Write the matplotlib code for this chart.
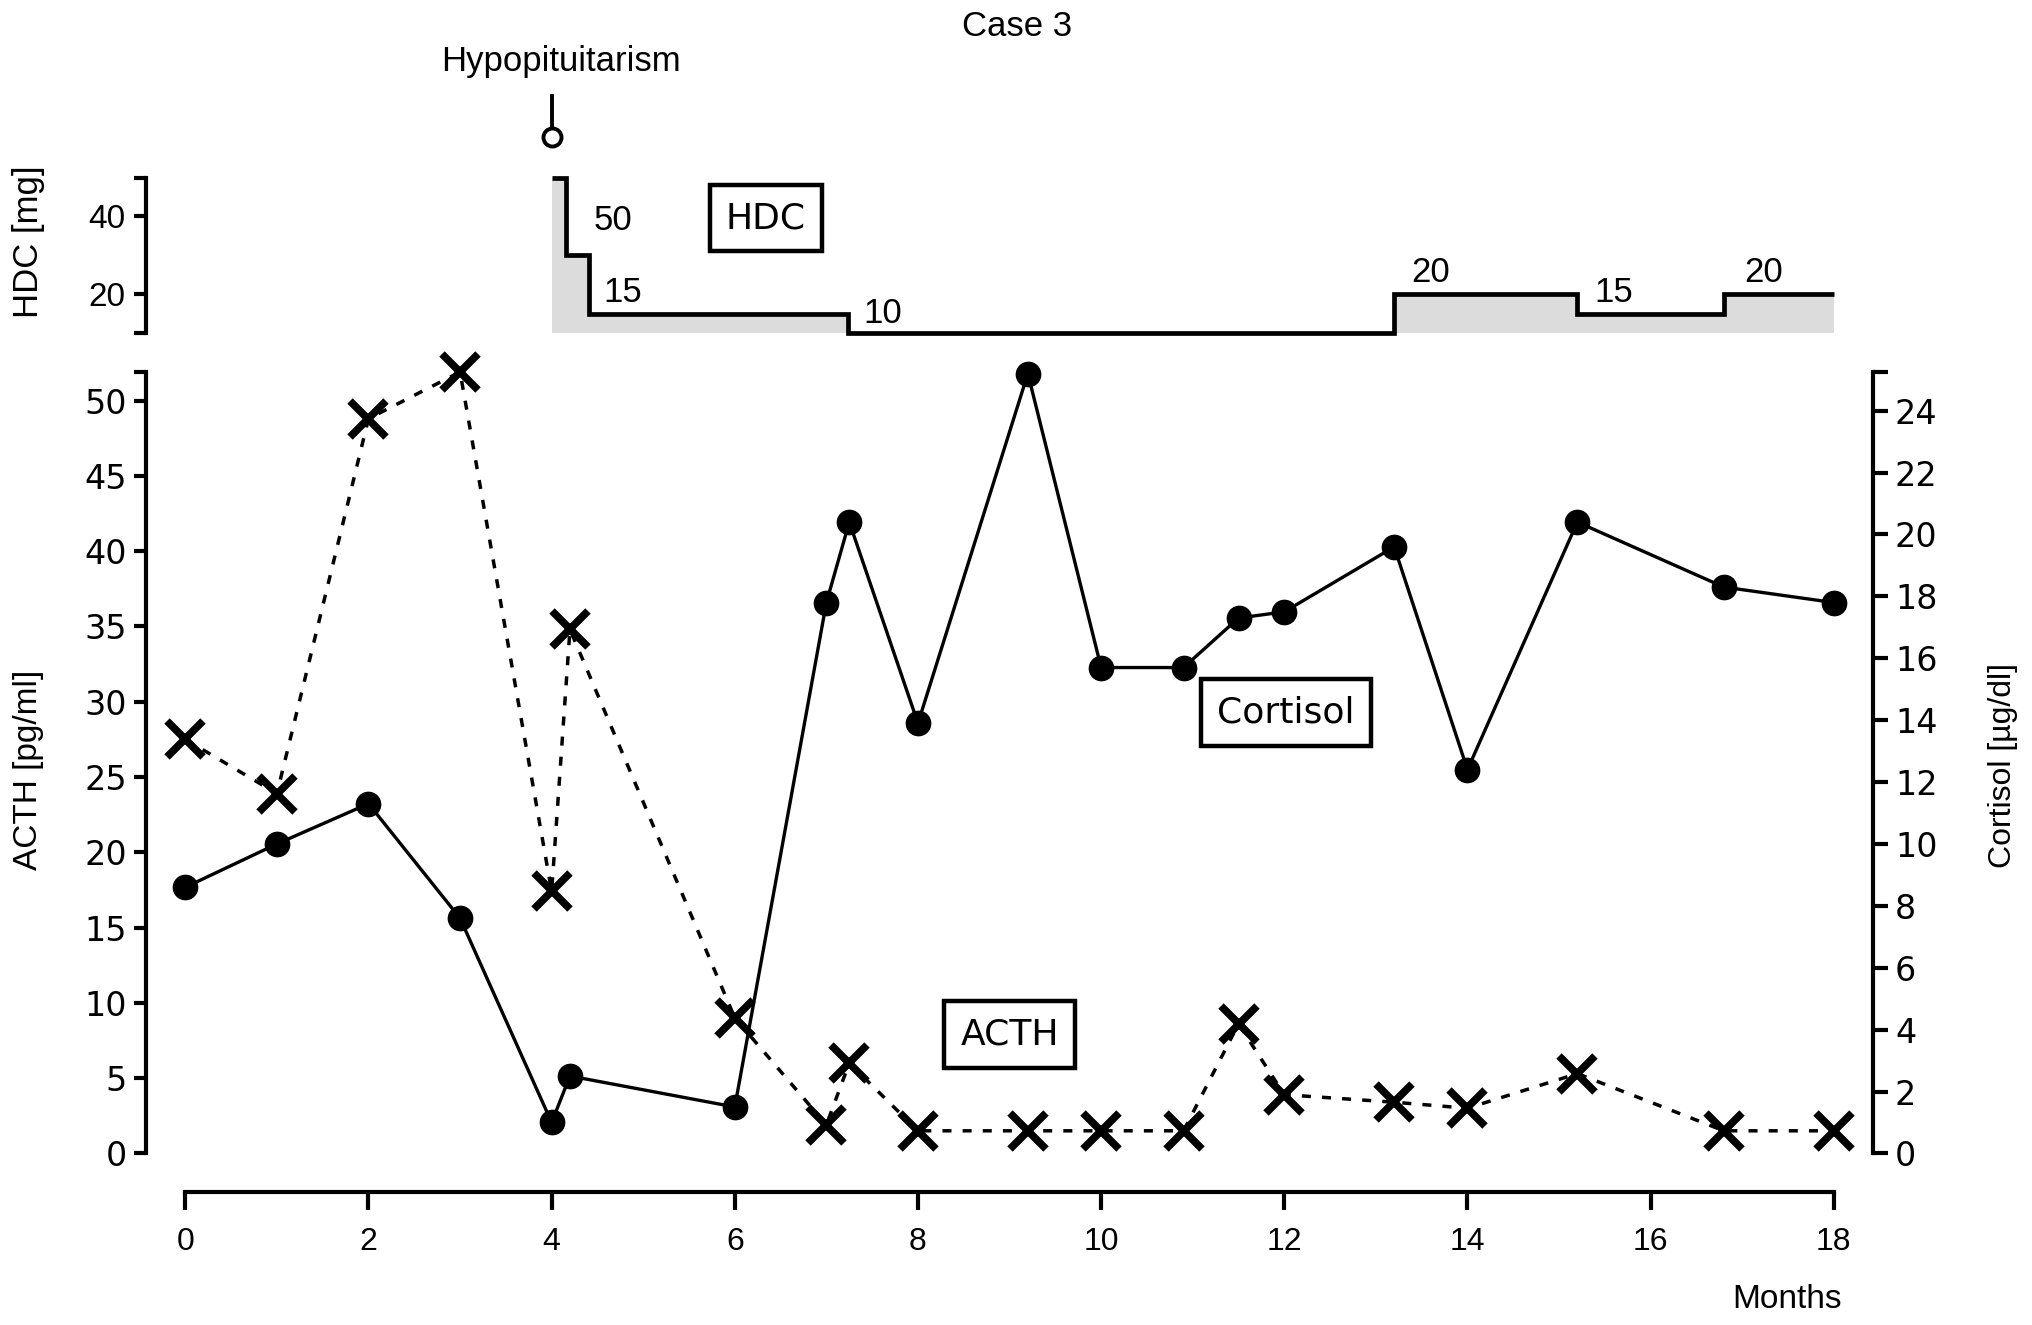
import matplotlib
matplotlib.use("Agg")
import matplotlib.pyplot as plt

NARROW = 'Liberation Sans'
WIDE = 'DejaVu Sans'
plt.rcParams['font.family'] = [NARROW, 'DejaVu Sans']

# ---------------- data ----------------
months = [0, 1, 2, 3, 4, 4.2, 6, 7, 7.25, 8, 9.2, 10, 10.9, 11.5, 12, 13.2, 14, 15.2, 16.8, 18]
cortisol = [8.6, 10.0, 11.3, 7.6, 1.0, 2.5, 1.5, 17.8, 20.4, 13.9, 25.2, 15.7, 15.7, 17.3, 17.5, 19.6, 12.4, 20.4, 18.3, 17.8]
acth = [27.5, 23.9, 48.8, 51.9, 17.4, 34.8, 9.0, 1.9, 6.0, 1.5, 1.5, 1.5, 1.5, 8.6, 3.9, 3.4, 3.0, 5.3, 1.5, 1.5]

hdc_edges = [4, 4.16, 4.41, 7.24, 13.2, 15.2, 16.8, 18]
hdc_dose = [50, 30, 15, 10, 20, 15, 20]
hdc_labels = ['50', '15', '10', '20', '15', '20']
hdc_label_x = [4.67, 4.78, 7.62, 13.6, 15.6, 17.23]
hdc_label_y = [39.0, 20.3, 14.9, 25.7, 20.3, 25.7]

x_ticks = list(range(0, 19, 2))
acth_ticks = list(range(0, 51, 5))
cort_ticks = list(range(0, 25, 2))
hdc_ticks = [20, 40]

# ---------------- figure ----------------
W, H = 2032, 1325
fig = plt.figure(figsize=(W / 100, H / 100), dpi=100)

def fx(px):
    return px / W

def fy(py):
    return 1 - py / H

left_px, right_px = 146.4, 1872.7
main_top, main_bot = 372, 1153.4
hdc_top, hdc_bot = 177.6, 333
XL = (-0.425, 18.425)

ax = fig.add_axes([fx(left_px), fy(main_bot), fx(right_px - left_px), (main_bot - main_top) / H])
ax2 = ax.twinx()
axh = fig.add_axes([fx(left_px), fy(hdc_bot), fx(right_px - left_px), (hdc_bot - hdc_top) / H])

LW_SP = 3.0
for a in (ax, ax2, axh):
    a.set_xlim(*XL)
    a.patch.set_visible(False)
    for s in a.spines.values():
        s.set_linewidth(LW_SP)
        s.set_capstyle('projecting')

ACTH_TOP = 51.9
CORT_TOP = 25.25
ax.set_ylim(0, ACTH_TOP)
ax2.set_ylim(0, CORT_TOP)

# main left axis
ax.spines['top'].set_visible(False)
ax.spines['right'].set_visible(False)
ax.spines['bottom'].set_position(('outward', 28))
ax.spines['bottom'].set_bounds(0, 18)
ax.set_xticks(x_ticks)
ax.set_xticklabels([str(t) for t in x_ticks], fontfamily=NARROW, fontsize=23)
ax.tick_params(axis='x', direction='out', length=13, width=LW_SP, pad=12)
ax.set_yticks(acth_ticks + [ACTH_TOP])
ax.set_yticklabels([str(t) for t in acth_ticks] + [''], fontsize=24, fontfamily=WIDE)
ax.tick_params(axis='y', direction='out', length=9, width=LW_SP, pad=5)

ax2.spines['top'].set_visible(False)
ax2.spines['left'].set_visible(False)
ax2.spines['bottom'].set_visible(False)
ax2.set_yticks(cort_ticks + [CORT_TOP])
ax2.set_yticklabels([str(t) for t in cort_ticks] + [''], fontsize=24, fontfamily=WIDE)
ax2.tick_params(axis='y', direction='out', length=11, width=LW_SP, pad=5)

# HDC axis
axh.set_ylim(10, 50)
axh.spines['top'].set_visible(False)
axh.spines['right'].set_visible(False)
axh.spines['bottom'].set_visible(False)
axh.set_xticks([])
axh.set_yticks([10] + hdc_ticks + [50])
axh.set_yticklabels([''] + [str(t) for t in hdc_ticks] + [''], fontfamily=NARROW, fontsize=24)
axh.tick_params(axis='y', direction='out', length=9, width=LW_SP, pad=6)

axh.stairs(hdc_dose, hdc_edges, baseline=10, fill=True, color='#dcdcdc', lw=0)
axh.stairs(hdc_dose, hdc_edges, baseline=None, color='black', lw=3.4, clip_on=False)
for t, xx, yy in zip(hdc_labels, hdc_label_x, hdc_label_y):
    axh.text(xx, yy, t, ha='center', va='center', fontsize=25, fontfamily=NARROW)

# Hypopituitarism marker
axh.plot([4, 4], [63.0, 71.4], color='black', lw=2.8, clip_on=False, solid_capstyle='butt')
axh.plot([4], [60.4], marker='o', ms=13, mfc='white', mec='black', mew=2.8, clip_on=False)

# data series
ax2.plot(months, cortisol, color='black', lw=2.4, marker='o', ms=17.5, mfc='black', mec='black', clip_on=False, zorder=3)
ax.plot(months, acth, color='black', lw=2.5, ls=(0, (2.6, 3.2)), marker='x', ms=26, mew=5.5, clip_on=False, zorder=3)

# text boxes
box = dict(boxstyle='square,pad=0.45', fc='white', ec='black', lw=3.2)
axh.text(6.34, 39.6, 'HDC', ha='center', va='center', fontsize=26, fontfamily=WIDE, bbox=box)
ax.text(12.02, 29.3, 'Cortisol', ha='center', va='center', fontsize=26, fontfamily=WIDE, bbox=box)
ax.text(9.0, 7.9, 'ACTH', ha='center', va='center', fontsize=26, fontfamily=WIDE, bbox=box)

# labels
fig.text(fx(1017), fy(26), 'Case 3', ha='center', va='center', fontsize=25, fontfamily=NARROW)
fig.text(fx(561), fy(62), 'Hypopituitarism', ha='center', va='center', fontsize=25, fontfamily=NARROW)
fig.text(fx(28.5), fy(242), 'HDC [mg]', ha='center', va='center', rotation=90, fontsize=25, fontfamily=NARROW)
fig.text(fx(28.5), fy(770), 'ACTH [pg/ml]', ha='center', va='center', rotation=90, fontsize=24, fontfamily=NARROW)
fig.text(fx(2003), fy(765), 'Cortisol [µg/dl]', ha='center', va='center', rotation=90, fontsize=23, fontfamily=NARROW)
fig.text(fx(1787), fy(1299), 'Months', ha='center', va='center', fontsize=24, fontfamily=NARROW)

fig.savefig('out.png', dpi=100)
